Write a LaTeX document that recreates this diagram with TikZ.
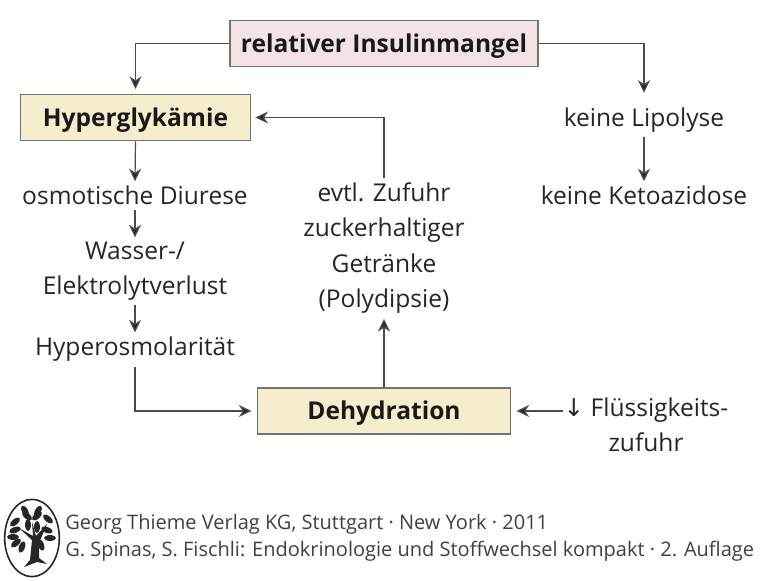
\documentclass[tikz,border=0pt]{standalone}
\usepackage{fontspec}
\setmainfont{Open Sans}
\newfontfamily\symfont{DejaVu Sans}
\usetikzlibrary{arrows.meta,shapes.geometric}

\definecolor{pinkbox}{HTML}{F4E3E5}
\definecolor{sandbox}{HTML}{F6EDCD}

\tikzset{
	lbl/.style={font=\fontsize{18.4}{26.5}\selectfont,text=black!85,align=center,inner sep=0pt},
	box/.style={draw=black!55,line width=0.8pt,font=\fontsize{18.4}{22}\selectfont\bfseries,text=black!90,inner sep=0pt,text height=16.6pt,text depth=3.8pt},
	arr/.style={draw=black!70,line width=0.9pt,-{Stealth[length=9.5pt,width=9pt,inset=3pt,fill=black!85]}},
	foot/.style={font=\fontsize{15}{17}\selectfont,text=black!75,anchor=west,inner sep=0pt},
	leaf/.style={ellipse,fill=black!85,minimum width=9pt,minimum height=4.4pt,inner sep=0pt},
}

\begin{document}
\begin{tikzpicture}[x=0.75pt,y=-0.75pt]
	\useasboundingbox (0,0) rectangle (768,581);
	\node[box,fill=pinkbox,minimum width=231pt,minimum height=35pt] (ins) at (384,43.5) {relativer Insulinmangel};
	\node[box,fill=sandbox,minimum width=173pt,minimum height=35pt] (hyp) at (135.5,117.5) {Hyperglykämie};
	\node[box,fill=sandbox,minimum width=190pt,minimum height=34.5pt] (deh) at (384,411) {Dehydration};
	\node[lbl] (lip) at (644,120) {keine Lipolyse};
	\node[lbl] (ket) at (644,195) {keine Ketoazidose};
	\node[lbl] (osm) at (135,195) {osmotische Diurese};
	\node[lbl] (was) at (135,271) {Wasser-/\\Elektrolytverlust};
	\node[lbl] (oso) at (135,349) {Hyperosmolarität};
	\node[lbl] (zuf) at (384,248) {evtl. Zufuhr\\zuckerhaltiger\\Getränke\\(Polydipsie)};
	\node[lbl] (flu) at (646,425) {{\symfont ↓} Flüssigkeits-\\zufuhr};
	\draw[arr] (ins.west) -| ([yshift=3.5pt]hyp.north);
	\draw[arr] (ins.east) -| ([yshift=11pt]lip.north);
	\draw[arr] ([yshift=-3pt]lip.south) -- ([yshift=3pt]ket.north);
	\draw[arr] (hyp.south) -- ([yshift=3pt]osm.north);
	\draw[arr] ([yshift=-4pt]osm.south) -- ([yshift=3pt]was.north);
	\draw[arr] ([yshift=-3pt]was.south) -- ([yshift=3pt]oso.north);
	\draw[arr] ([yshift=-4pt]oso.south) |- ([xshift=-4pt]deh.west);
	\draw[arr] (deh.north) -- ([yshift=-4pt]zuf.south);
	\draw[arr] ([yshift=3pt]zuf.north) |- ([xshift=3pt]hyp.east);
	\draw[arr] ([yshift=10.5pt]flu.west) -- ([xshift=4pt]deh.east);
	% logo
	\node[ellipse,draw=black!85,line width=1.2pt,minimum width=41pt,minimum height=58pt,inner sep=0pt] (logo) at (32,538) {};
	\fill[black!85] (24,567) -- (30,560) -- (32,540) -- (19,528) -- (33,536) -- (32,522) -- (36,536) -- (47,524) -- (39,543) -- (39,558) -- (47,564) -- (37,562) -- cycle;
	\node[leaf,rotate=-60] (l1) at (25,511) {};
	\node[leaf,rotate=60] (l2) at (38,511) {};
	\node[leaf,rotate=40] (l3) at (15,522) {};
	\node[leaf,rotate=-40] (l4) at (27,516) {};
	\node[leaf,rotate=40] (l5) at (37,516) {};
	\node[leaf,rotate=-40] (l6) at (48,519) {};
	\node[leaf,rotate=20] (l7) at (15,530) {};
	\node[leaf,rotate=-20] (l8) at (47,530) {};
	\node[leaf,rotate=0] (l9) at (13,537) {};
	\node[leaf,rotate=0] (l10) at (50,538) {};
	\node[leaf,rotate=40] (l11) at (16,543) {};
	\node[leaf,rotate=70] (l12) at (22,547) {};
	\node[leaf,rotate=-70] (l13) at (41,545) {};
	\node[leaf,rotate=90] (l14) at (28,525) {};
	\node[leaf,rotate=90] (l15) at (37,527) {};
	\node[foot] (f1) at (65,524.5) {Georg Thieme Verlag KG, Stuttgart · New York · 2011};
	\node[foot] (f2) at (65,551) {G. Spinas, S. Fischli: Endokrinologie und Stoffwechsel kompakt · 2. Auflage};
\end{tikzpicture}
\end{document}
